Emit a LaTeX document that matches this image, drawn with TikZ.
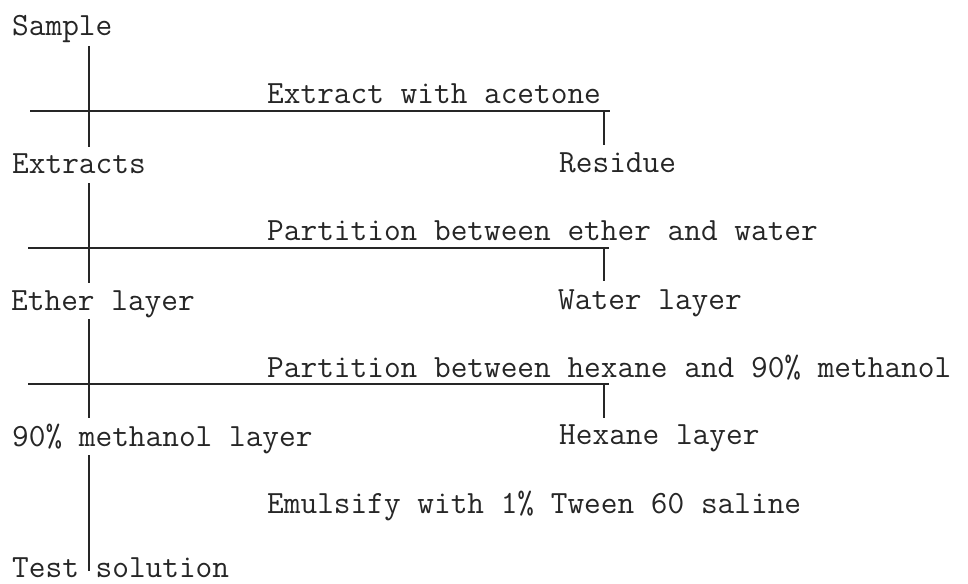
\documentclass[tikz,border=0pt]{standalone}
\usepackage{fontspec}
\begin{document}
\begin{tikzpicture}[x=1pt,y=-1pt,
  lbl/.style={anchor=base west,inner sep=0pt,font=\ttfamily\fontsize{32.4}{34}\selectfont,text=black!85},
  ln/.style={line width=1.8pt,black!85}]
\useasboundingbox (0,0) rectangle (968,583);
% texts
\node[lbl] (sample) at (12,36) {Sample};
\node[lbl] (extracttxt) at (267,103) {Extract with acetone};
\node[lbl] (extracts) at (12,173) {Extracts};
\node[lbl] (residue) at (559,172) {Residue};
\node[lbl] (part1) at (267,240) {Partition between ether and water};
\node[lbl] (ether) at (11,310) {Ether layer};
\node[lbl] (water) at (558,309) {Water layer};
\node[lbl] (part2) at (267,377) {Partition between hexane and 90\% methanol};
\node[lbl] (meth) at (12,446) {90\% methanol layer};
\node[lbl] (hexane) at (559,444) {Hexane layer};
\node[lbl] (emul) at (267,513) {Emulsify with 1\% Tween 60 saline};
\node[lbl] (test) at (12,577) {Test solution};
% coordinates
\coordinate (a1) at (89,46);  \coordinate (a2) at (89,147);
\coordinate (h1l) at (30,111); \coordinate (h1r) at (610,111);
\coordinate (r1t) at (604,111); \coordinate (r1b) at (604,145);
\coordinate (b1) at (89,183); \coordinate (b2) at (89,283);
\coordinate (h2l) at (28,248); \coordinate (h2r) at (609,248);
\coordinate (r2t) at (604,248); \coordinate (r2b) at (604,281);
\coordinate (c1) at (89,319); \coordinate (c2) at (89,418);
\coordinate (h3l) at (28,384); \coordinate (h3r) at (609,384);
\coordinate (r3t) at (604,384); \coordinate (r3b) at (604,418);
\coordinate (d1) at (89,455); \coordinate (d2) at (89,571);
% lines
\draw[ln] (a1) -- (a2);
\draw[ln] (h1l) -- (h1r);
\draw[ln] (r1t) -- (r1b);
\draw[ln] (b1) -- (b2);
\draw[ln] (h2l) -- (h2r);
\draw[ln] (r2t) -- (r2b);
\draw[ln] (c1) -- (c2);
\draw[ln] (h3l) -- (h3r);
\draw[ln] (r3t) -- (r3b);
\draw[ln] (d1) -- (d2);
\end{tikzpicture}
\end{document}
